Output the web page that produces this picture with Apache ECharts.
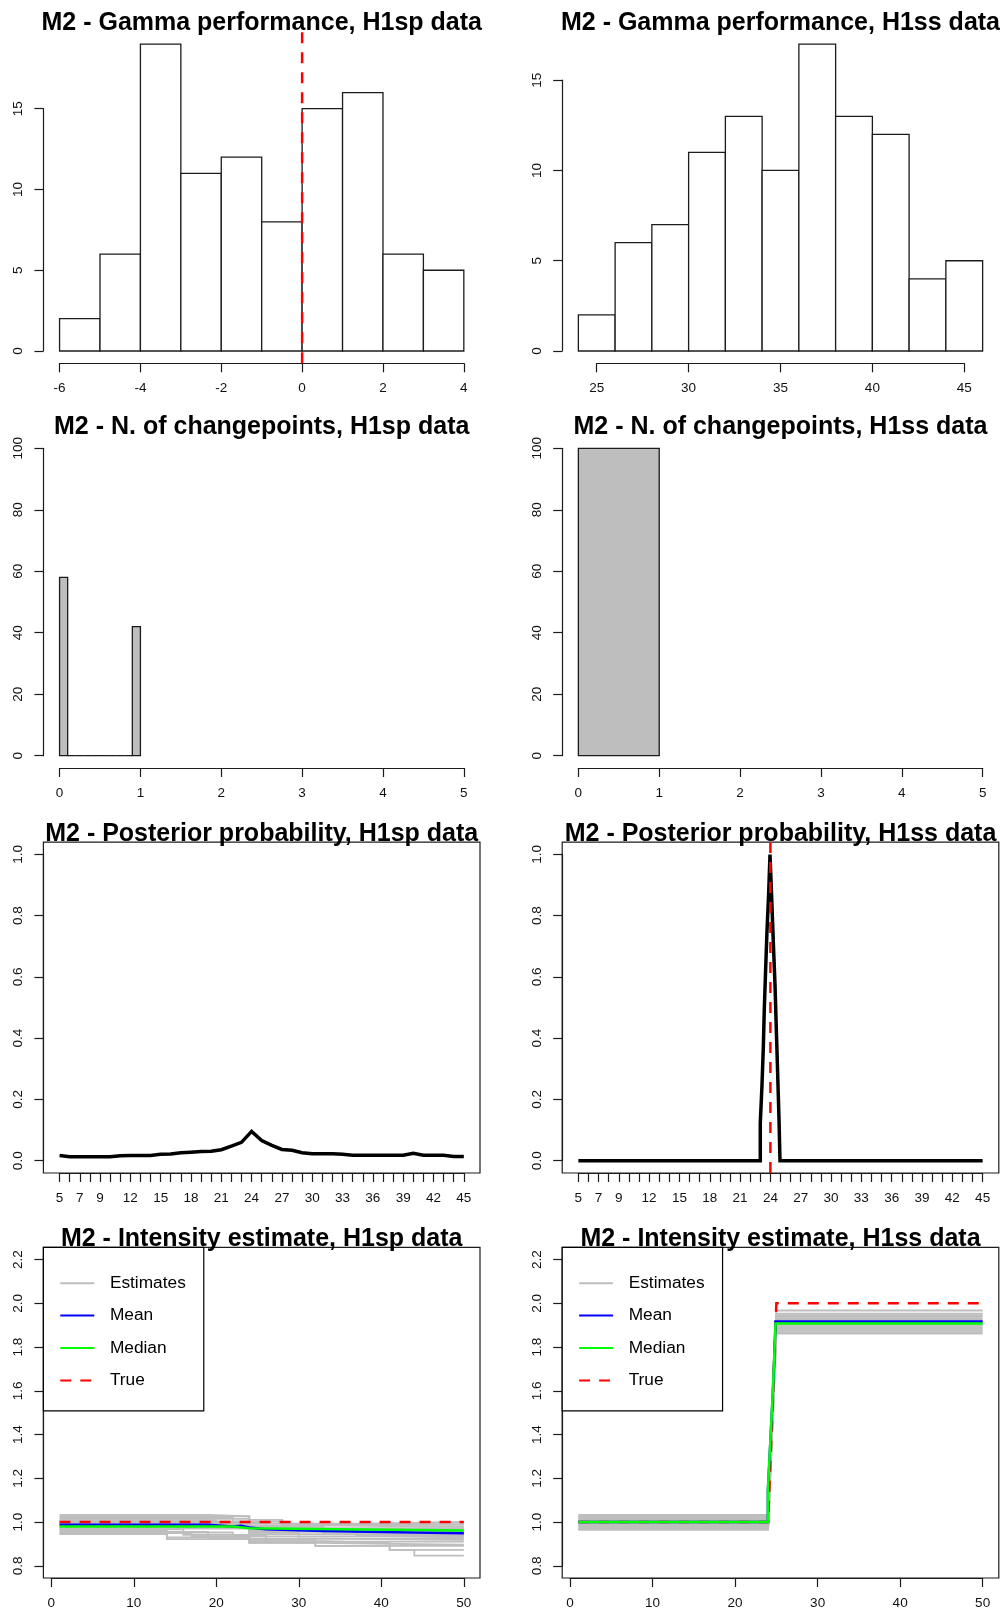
<!DOCTYPE html>
<html>
<head>
<meta charset="utf-8">
<title>M2 diagnostics</title>
<script src="https://cdn.jsdelivr.net/npm/echarts@6/dist/echarts.min.js"></script>
<style>
  html, body { margin: 0; padding: 0; background: #ffffff; }
  #chart { width: 1000px; height: 1612px; }
</style>
</head>
<body>
<div id="chart"></div>
<script>
// ---------------- data ----------------
// Gamma performance histograms
const gammaSpBreaks = [-6, -5, -4, -3, -2, -1, 0, 1, 2, 3, 4];
const gammaSpCounts = [2, 6, 19, 11, 12, 8, 15, 16, 6, 5];
const gammaSpTrue = 0;
const gammaSsBreaks = [24, 26, 28, 30, 32, 34, 36, 38, 40, 42, 44, 46];
const gammaSsCounts = [2, 6, 7, 11, 13, 10, 17, 13, 12, 4, 5];

// Number of changepoints histograms
const cpSpBreaks = [0, 0.1, 0.2, 0.3, 0.4, 0.5, 0.6, 0.7, 0.8, 0.9, 1.0];
const cpSpCounts = [58, 0, 0, 0, 0, 0, 0, 0, 0, 42];
const cpSsBreaks = [0, 1];
const cpSsCounts = [100];

// Posterior probability of the changepoint location
const postSpX = [5, 6, 7, 8, 9, 10, 11, 12, 13, 14, 15, 16, 17, 18, 19, 20, 21, 22, 23, 24, 25,
                 26, 27, 28, 29, 30, 31, 32, 33, 34, 35, 36, 37, 38, 39, 40, 41, 42, 43, 44, 45];
const postSpY = [0.017, 0.013, 0.013, 0.013, 0.013, 0.013, 0.016, 0.017, 0.017, 0.017, 0.021,
                 0.022, 0.026, 0.028, 0.030, 0.031, 0.036, 0.048, 0.060, 0.096, 0.066, 0.050,
                 0.037, 0.034, 0.026, 0.023, 0.023, 0.023, 0.021, 0.018, 0.018, 0.018, 0.018,
                 0.018, 0.018, 0.024, 0.018, 0.018, 0.018, 0.014, 0.014];
const postSsX = [5, 23.00, 23.17, 23.30, 23.40, 23.53, 23.66, 23.83, 23.96,
                 24.13, 24.29, 24.46, 24.59, 24.72, 24.85, 24.95, 45];
const postSsY = [0, 0.123, 0.248, 0.370, 0.498, 0.625, 0.747, 0.875, 1.000,
                 0.857, 0.712, 0.571, 0.425, 0.283, 0.138, 0, 0];
const postSsTrue = 24;
const postTickLabels = [5, 7, 9, 12, 15, 18, 21, 24, 27, 30, 33, 36, 39, 42, 45];

// Intensity estimates, H1sp data (step functions: [time, intensity])
const intSpEstimates = [
  [[1, 1.033], [19, 1.026], [24, 1.010], [28, 0.990], [50, 0.990]],
  [[1, 1.027], [24, 0.993], [38, 1.000], [50, 1.000]],
  [[1, 1.021], [22, 1.002], [28, 0.987], [50, 0.987]],
  [[1, 1.015], [24, 0.984], [35, 0.978], [50, 0.978]],
  [[1, 1.009], [20, 0.998], [26, 0.972], [50, 0.972]],
  [[1, 1.003], [24, 0.978], [33, 0.966], [50, 0.966]],
  [[1, 0.997], [23, 0.975], [30, 0.960], [50, 0.960]],
  [[1, 0.991], [24, 0.965], [40, 0.954], [50, 0.954]],
  [[1, 0.985], [24, 0.955], [35, 0.948], [50, 0.948]],
  [[1, 0.979], [24, 0.945], [33, 0.940], [50, 0.940]],
  [[1, 0.973], [24, 0.934], [41, 0.930], [50, 0.930]],
  [[1, 0.967], [16, 0.941], [24, 0.924], [33, 0.918], [50, 0.918]],
  [[1, 0.961], [14, 0.930], [24, 0.912], [33, 0.904], [41, 0.873], [50, 0.873]],
  [[1, 0.955], [19, 0.925], [24, 0.905], [32, 0.896], [50, 0.896]],
  [[1, 0.949], [17, 0.935], [24, 0.918], [32, 0.891], [41, 0.873], [44, 0.846], [50, 0.846]],
  [[1, 0.945], [14, 0.922], [24, 0.905], [32, 0.891], [50, 0.891]],
  [[1, 0.952], [22, 0.938], [26, 0.910], [50, 0.910]],
  [[1, 0.970], [24, 0.950], [30, 0.924], [50, 0.924]],
  [[1, 0.988], [24, 0.960], [37, 0.936], [50, 0.936]],
  [[1, 1.000], [24, 0.970], [33, 0.945], [50, 0.945]]
];
const intSpMean = [[1, 0.987], [19, 0.980], [22, 0.983], [23, 0.975], [24, 0.967],
                   [26, 0.959], [33, 0.954], [40, 0.949], [50, 0.949]];
const intSpMedian = [[1, 0.979], [22, 0.972], [24, 0.967], [35, 0.961], [50, 0.961]];
const intSpTrue = [[1, 1], [50, 1]];

// Intensity estimates, H1ss data (level before / after the jump)
const intSsEarly = [1.033, 1.028, 1.023, 1.018, 1.013, 1.008, 1.003, 0.998,
                    0.993, 0.988, 0.983, 0.978, 0.973, 0.968, 0.964];
const intSsLate  = [1.953, 1.925, 1.946, 1.890, 1.939, 1.932, 1.967, 1.918,
                    1.911, 1.904, 1.897, 1.883, 1.876, 1.868, 1.861];
const intSsJump = [24, 25];
const intSsMean = [[1, 1.0], [23.97, 1.14], [24.18, 1.30], [24.38, 1.45], [24.58, 1.60],
                   [24.74, 1.75], [24.9, 1.917], [50, 1.917]];
const intSsMedian = [[1, 1.0], [23.97, 1.150], [24.18, 1.302], [24.38, 1.454], [24.58, 1.606],
                     [24.74, 1.758], [24.9, 1.908], [50, 1.908]];
const intSsTrue = [[1, 1], [24, 1], [25, 2], [50, 2]];
const timeRange = [1, 50];

// ---------------- layout & style ----------------
const FONT = "'Liberation Sans', Arial, sans-serif";
const INK = '#1c1c1c';
const COL_LEFT = [43.4, 562.2];
const PLOT_W = 436.6;
const ROWS = [[31.8, 363.3], [436, 768], [842.2, 1173], [1247.3, 1578]];
const RED = '#ff0000', BLUE = '#0000ff', GREEN = '#00ff00', GRAY = '#bebebe';
const DASH = [11, 9];

const grids = [], xAxes = [], yAxes = [], series = [], titles = [], legends = [];

// R-style plotting range: data limits widened by 4% on each side
function padRange(lo, hi) { const d = (hi - lo) * 0.04; return [lo - d, hi + d]; }

function shownAxis(extra) {
  return Object.assign({
    type: 'value',
    splitLine: { show: false },
    axisLine: { show: true, onZero: false, lineStyle: { color: INK, width: 1.2 } },
    axisTick: { show: true, inside: false, length: 9, lineStyle: { color: INK, width: 1.2 } },
    axisLabel: { show: true, margin: 18, fontSize: 13.5, color: '#111', fontFamily: FONT, hideOverlap: false }
  }, extra);
}

function addPanel(p) {
  const L = COL_LEFT[p.col], T = ROWS[p.row][0], B = ROWS[p.row][1];
  const W = PLOT_W, H = B - T;
  const [x0, x1] = p.xr, [y0, y1] = p.yr;

  // plotting region, carries the data
  const gi = grids.length;
  grids.push({ left: L, top: T, width: W, height: H, show: !!p.box, borderColor: INK, borderWidth: 1.2,
               backgroundColor: 'transparent', containLabel: false, outerBoundsMode: 'none' });
  xAxes.push({ type: 'value', gridIndex: gi, min: x0, max: x1, show: false });
  yAxes.push({ type: 'value', gridIndex: gi, min: y0, max: y1, show: false });
  const ax = { xAxisIndex: xAxes.length - 1, yAxisIndex: yAxes.length - 1 };

  // axes drawn only between the first and last tick, pushed out to the region edges
  const xt = p.xt, yt = p.yt;
  const aL = L + (xt.min - x0) / (x1 - x0) * W;
  const aW = (xt.max - xt.min) / (x1 - x0) * W;
  const aT = T + (y1 - yt.max) / (y1 - y0) * H;
  const aH = (yt.max - yt.min) / (y1 - y0) * H;
  const ai = grids.length;
  grids.push({ left: aL, top: aT, width: aW, height: aH, show: false, containLabel: false, outerBoundsMode: 'none' });
  const xa = shownAxis({ gridIndex: ai, position: 'bottom', min: xt.min, max: xt.max, interval: xt.interval,
                         offset: B - (aT + aH) });
  if (xt.fmt) xa.axisLabel.formatter = xt.fmt;
  xAxes.push(xa);
  const ya = shownAxis({ gridIndex: ai, position: 'left', min: yt.min, max: yt.max, interval: yt.interval,
                         offset: aL - L });
  ya.axisLabel.rotate = 90;
  if (yt.fmt) ya.axisLabel.formatter = yt.fmt;
  yAxes.push(ya);

  titles.push({
    text: p.title, left: L + W / 2, top: T - 21, textAlign: 'center', padding: 0,
    textStyle: { fontSize: 25, fontWeight: 'bold', color: '#000', fontFamily: FONT }
  });
  return Object.assign(ax, { L, T, W, H });
}

function histSeries(ax, breaks, counts, fill) {
  return {
    type: 'custom', xAxisIndex: ax.xAxisIndex, yAxisIndex: ax.yAxisIndex, silent: true,
    encode: { x: [0, 1], y: 2 },
    data: counts.map((c, i) => [breaks[i], breaks[i + 1], c]),
    renderItem: function (params, api) {
      const a = api.coord([api.value(0), 0]);
      const b = api.coord([api.value(1), api.value(2)]);
      return {
        type: 'polygon',
        shape: { points: [[a[0], a[1]], [b[0], a[1]], [b[0], b[1]], [a[0], b[1]]] },
        style: { fill: fill, stroke: INK, lineWidth: 1.3 }
      };
    }
  };
}

function lineSeries(ax, name, data, style, step) {
  return {
    type: 'line', name: name, xAxisIndex: ax.xAxisIndex, yAxisIndex: ax.yAxisIndex,
    data: data, step: step || false, symbol: 'none', silent: true, clip: true,
    color: style.color, itemStyle: { color: style.color },
    lineStyle: { color: style.color, width: style.width, type: style.type || 'solid', cap: 'butt', join: 'miter' },
    z: style.z || 2
  };
}

// line from the bottom to the top of the plotting region
function vLine(ax, x, yr) {
  return lineSeries(ax, 'abline', [[x, yr[0]], [x, yr[1]]], { color: RED, width: 2.5, type: DASH, z: 4 });
}

function addLegend(ax) {
  legends.push({
    left: ax.L, top: ax.T, orient: 'vertical',
    data: ['Estimates', 'Mean', 'Median', 'True'],
    itemWidth: 34, itemHeight: 14, itemGap: 15.4,
    padding: [27.4, 18, 22, 15.9],
    borderColor: '#000', borderWidth: 1.2, borderRadius: 0, backgroundColor: '#ffffff',
    selectedMode: false,
    itemStyle: { color: 'transparent', borderColor: 'transparent', borderWidth: 0 },
    textStyle: { fontSize: 17.3, color: '#000', fontFamily: FONT, padding: [0, 0, 0, 10.6], lineHeight: 14 }
  });
}

// ---------------- panels ----------------
const fmt1 = v => v.toFixed(1);

// Gamma performance, H1sp
const gSpX = [gammaSpBreaks[0], gammaSpBreaks[gammaSpBreaks.length - 1]];
const gSpYr = padRange(0, Math.max(...gammaSpCounts));
const p1 = addPanel({ col: 0, row: 0, title: 'M2 - Gamma performance, H1sp data',
  xr: padRange(gSpX[0], gSpX[1]), yr: gSpYr,
  xt: { min: -6, max: 4, interval: 2 }, yt: { min: 0, max: 15, interval: 5 } });
series.push(histSeries(p1, gammaSpBreaks, gammaSpCounts, '#ffffff'));
series.push(vLine(p1, gammaSpTrue, [gSpYr[0], gSpYr[1]]));

// Gamma performance, H1ss
const gSsX = [gammaSsBreaks[0], gammaSsBreaks[gammaSsBreaks.length - 1]];
const p2 = addPanel({ col: 1, row: 0, title: 'M2 - Gamma performance, H1ss data',
  xr: padRange(gSsX[0], gSsX[1]), yr: padRange(0, Math.max(...gammaSsCounts)),
  xt: { min: 25, max: 45, interval: 5 }, yt: { min: 0, max: 15, interval: 5 } });
series.push(histSeries(p2, gammaSsBreaks, gammaSsCounts, '#ffffff'));

// Number of changepoints
const p3 = addPanel({ col: 0, row: 1, title: 'M2 - N. of changepoints, H1sp data',
  xr: padRange(0, 5), yr: padRange(0, 100),
  xt: { min: 0, max: 5, interval: 1 }, yt: { min: 0, max: 100, interval: 20 } });
series.push(histSeries(p3, cpSpBreaks, cpSpCounts, GRAY));
const p4 = addPanel({ col: 1, row: 1, title: 'M2 - N. of changepoints, H1ss data',
  xr: padRange(0, 5), yr: padRange(0, 100),
  xt: { min: 0, max: 5, interval: 1 }, yt: { min: 0, max: 100, interval: 20 } });
series.push(histSeries(p4, cpSsBreaks, cpSsCounts, GRAY));

// Posterior probability
const postXt = { min: 5, max: 45, interval: 1, fmt: v => (postTickLabels.indexOf(v) >= 0 ? String(v) : '') };
const postYt = { min: 0, max: 1, interval: 0.2, fmt: fmt1 };
const postYr = padRange(0, 1);
const p5 = addPanel({ col: 0, row: 2, title: 'M2 - Posterior probability, H1sp data', box: true,
  xr: padRange(5, 45), yr: postYr, xt: postXt, yt: postYt });
series.push(lineSeries(p5, 'posterior', postSpX.map((x, i) => [x, postSpY[i]]), { color: '#000', width: 3.5 }));
const p6 = addPanel({ col: 1, row: 2, title: 'M2 - Posterior probability, H1ss data', box: true,
  xr: padRange(5, 45), yr: postYr, xt: postXt, yt: postYt });
series.push(lineSeries(p6, 'posterior', postSsX.map((x, i) => [x, postSsY[i]]), { color: '#000', width: 3.5 }, 'end'));
series.push(vLine(p6, postSsTrue, postYr));

// Intensity estimates
const intXt = { min: 0, max: 50, interval: 10 };
const intYt = { min: 0.8, max: 2.2, interval: 0.2, fmt: fmt1 };
const p7 = addPanel({ col: 0, row: 3, title: 'M2 - Intensity estimate, H1sp data', box: true,
  xr: padRange(timeRange[0], timeRange[1]), yr: padRange(0.8, 2.2), xt: intXt, yt: intYt });
intSpEstimates.forEach(est => series.push(lineSeries(p7, 'Estimates', est, { color: GRAY, width: 1.8 }, 'end')));
series.push(lineSeries(p7, 'True', intSpTrue, { color: RED, width: 2.5, type: DASH, z: 3 }));
series.push(lineSeries(p7, 'Mean', intSpMean, { color: BLUE, width: 2.5, z: 3 }, 'end'));
series.push(lineSeries(p7, 'Median', intSpMedian, { color: GREEN, width: 2.5, z: 3 }, 'end'));
addLegend(p7);

const p8 = addPanel({ col: 1, row: 3, title: 'M2 - Intensity estimate, H1ss data', box: true,
  xr: padRange(timeRange[0], timeRange[1]), yr: padRange(0.8, 2.2), xt: intXt, yt: intYt });
intSsEarly.forEach((a, i) => {
  const b = intSsLate[i];
  series.push(lineSeries(p8, 'Estimates',
    [[timeRange[0], a], [intSsJump[0], a], [intSsJump[1], b], [timeRange[1], b]], { color: GRAY, width: 1.8 }));
});
series.push(lineSeries(p8, 'True', intSsTrue, { color: RED, width: 2.5, type: DASH, z: 3 }));
series.push(lineSeries(p8, 'Mean', intSsMean, { color: BLUE, width: 2.5, z: 3 }, 'end'));
series.push(lineSeries(p8, 'Median', intSsMedian, { color: GREEN, width: 2.5, z: 3 }, 'end'));
addLegend(p8);

// ---------------- render ----------------
const chart = echarts.init(document.getElementById('chart'), null, { renderer: 'canvas', width: 1000, height: 1612 });
chart.setOption({
  backgroundColor: '#ffffff',
  animation: false,
  tooltip: { show: false },
  title: titles,
  legend: legends,
  grid: grids,
  xAxis: xAxes,
  yAxis: yAxes,
  series: series
});
</script>
</body>
</html>
